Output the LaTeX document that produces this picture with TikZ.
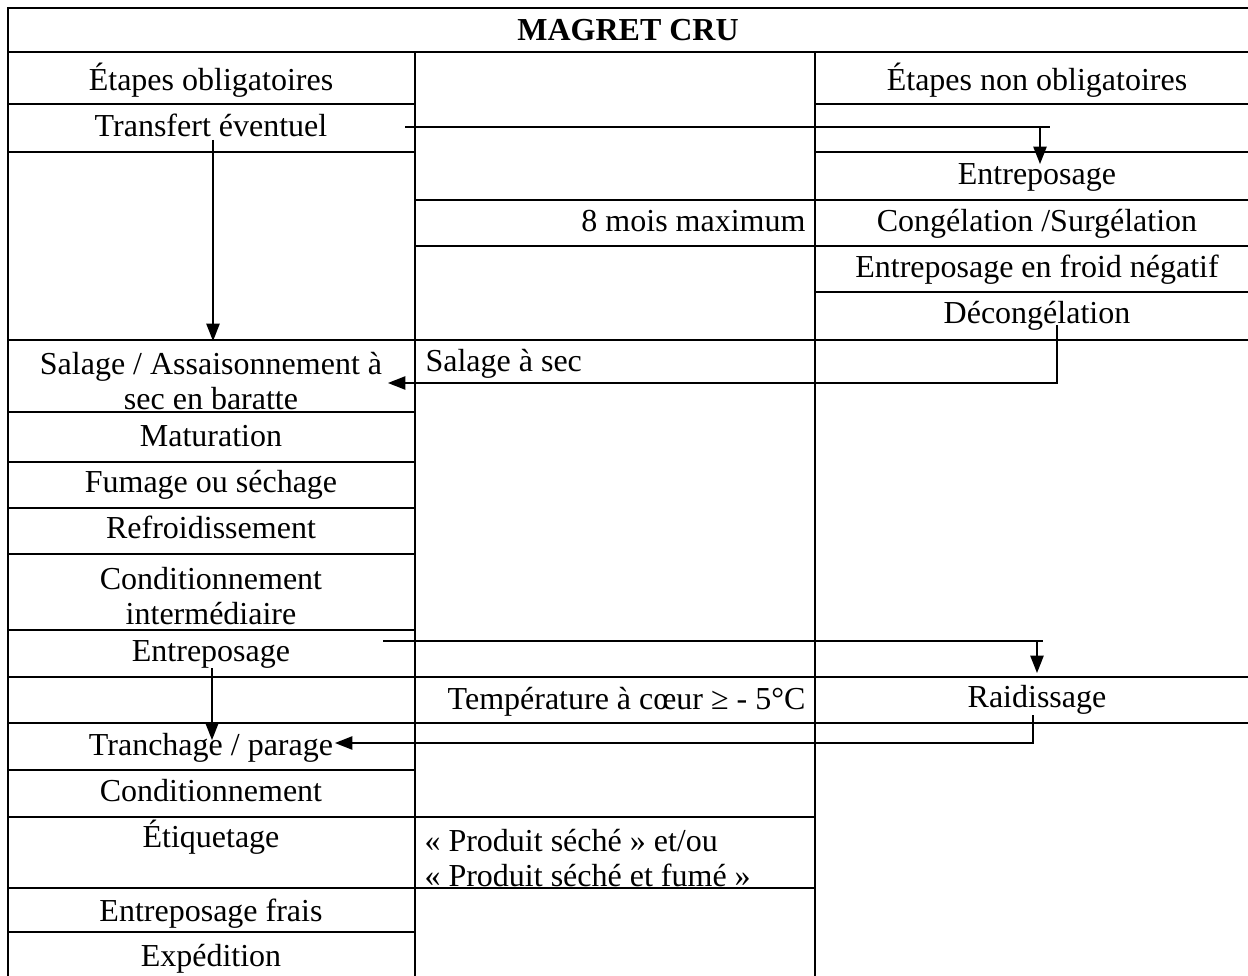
\documentclass[tikz,border=0pt]{standalone}
\usepackage{fontspec}
\setmainfont{Liberation Serif}
\usetikzlibrary{arrows.meta}

\begin{document}
\begin{tikzpicture}[x=0.375pt, y=-0.375pt]
            \tikzstyle{cell}=[inner sep=0pt, text height=8.5pt, text depth=2.5pt, yshift=-1.1pt, font=\fontsize{12}{13.2}\selectfont]
            \tikzstyle{twoline}=[inner sep=0pt, align=center, yshift=-1.1pt, font=\fontsize{12}{13.2}\selectfont]
            \tikzstyle{rule}=[line width=0.6pt]
            \tikzstyle{flow}=[line width=0.5pt, -{Triangle[length=6.5pt,width=5pt]}]
            \useasboundingbox (0,0) rectangle (1248,976);

            % grid of the table
            \draw[rule] (8,978) -- (8,8) -- (1252,8);
            \draw[rule] (8,52) -- (1252,52);
            \draw[rule] (415,52) -- (415,978);
            \draw[rule] (815,52) -- (815,978);
            \foreach \y in {104,152,412,462,508,554,630,770,932}
                \draw[rule] (8,\y) -- (415,\y);
            \foreach \y in {104,152,292}
                \draw[rule] (815,\y) -- (1252,\y);
            \foreach \y in {200,246}
                \draw[rule] (415,\y) -- (1252,\y);
            \foreach \y in {340,677,723}
                \draw[rule] (8,\y) -- (1252,\y);
            \foreach \y in {817,888}
                \draw[rule] (8,\y) -- (815,\y);

            % headings
            \node[cell, font=\fontsize{12}{13.2}\selectfont\bfseries] (T) at (628,30) {MAGRET CRU};
            \node[cell] (H_1) at (211,80) {Étapes obligatoires};
            \node[cell] (H_2) at (1037,80) {Étapes non obligatoires};

            % etapes obligatoires
            \node[cell] (O_1) at (211,126) {Transfert éventuel};
            \node[twoline] (O_2) at (211,378) {Salage / Assaisonnement à\\sec en baratte};
            \node[cell] (O_3) at (211,436) {Maturation};
            \node[cell] (O_4) at (211,482) {Fumage ou séchage};
            \node[cell] (O_5) at (211,528) {Refroidissement};
            \node[twoline] (O_6) at (211,593) {Conditionnement\\intermédiaire};
            \node[cell] (O_7) at (211,651) {Entreposage};
            \node[cell] (O_8) at (211,745) {Tranchage / parage};
            \node[cell] (O_9) at (211,791) {Conditionnement};
            \node[cell] (O_10) at (211,837) {Étiquetage};
            \node[cell] (O_11) at (211,911) {Entreposage frais};
            \node[cell] (O_12) at (211,956) {Expédition};

            % etapes non obligatoires
            \node[cell] (N_1) at (1037,174) {Entreposage};
            \node[cell] (N_2) at (1037,221) {Congélation /Surgélation};
            \node[cell] (N_3) at (1037,267) {Entreposage en froid négatif};
            \node[cell] (N_4) at (1037,313) {Décongélation};
            \node[cell] (N_5) at (1037,697) {Raidissage};

            % remarques
            \node[cell, anchor=east] (M_1) at (806,221) {8 mois maximum};
            \node[cell, anchor=west] (M_2) at (425,361) {Salage à sec};
            \node[cell, anchor=east] (M_3) at (806,699) {Température à cœur ≥ - 5°C};
            \node[twoline, align=left, anchor=west] (M_4) at (424,855) {«~Produit séché~» et/ou\\«~Produit séché et fumé~»};

            % end points
            \coordinate (A_1) at (405,127);
            \coordinate (A_2) at (1050,127);
            \coordinate (A_3) at (213,140);
            \coordinate (A_4) at (213,341);
            \coordinate (A_5) at (1057,325);
            \coordinate (A_6) at (388,383);
            \coordinate (A_7) at (383,641);
            \coordinate (A_8) at (1043,641);
            \coordinate (A_9) at (1037,673);
            \coordinate (A_10) at (212,668);
            \coordinate (A_11) at (212,740);
            \coordinate (A_12) at (1033,715);
            \coordinate (A_13) at (335,743);

            \draw[line width=0.5pt] (A_1) -- (A_2);
            \draw[flow] (A_1 -| 1040,0) -- (1040,164);
            \draw[flow] (A_3) -- (A_4);
            \draw[flow] (A_5) |- (A_6);
            \draw[line width=0.5pt] (A_7) -- (A_8);
            \draw[flow] (A_7 -| A_9) -- (A_9);
            \draw[flow] (A_10) -- (A_11);
            \draw[flow] (A_12) |- (A_13);
        \end{tikzpicture}
\end{document}
